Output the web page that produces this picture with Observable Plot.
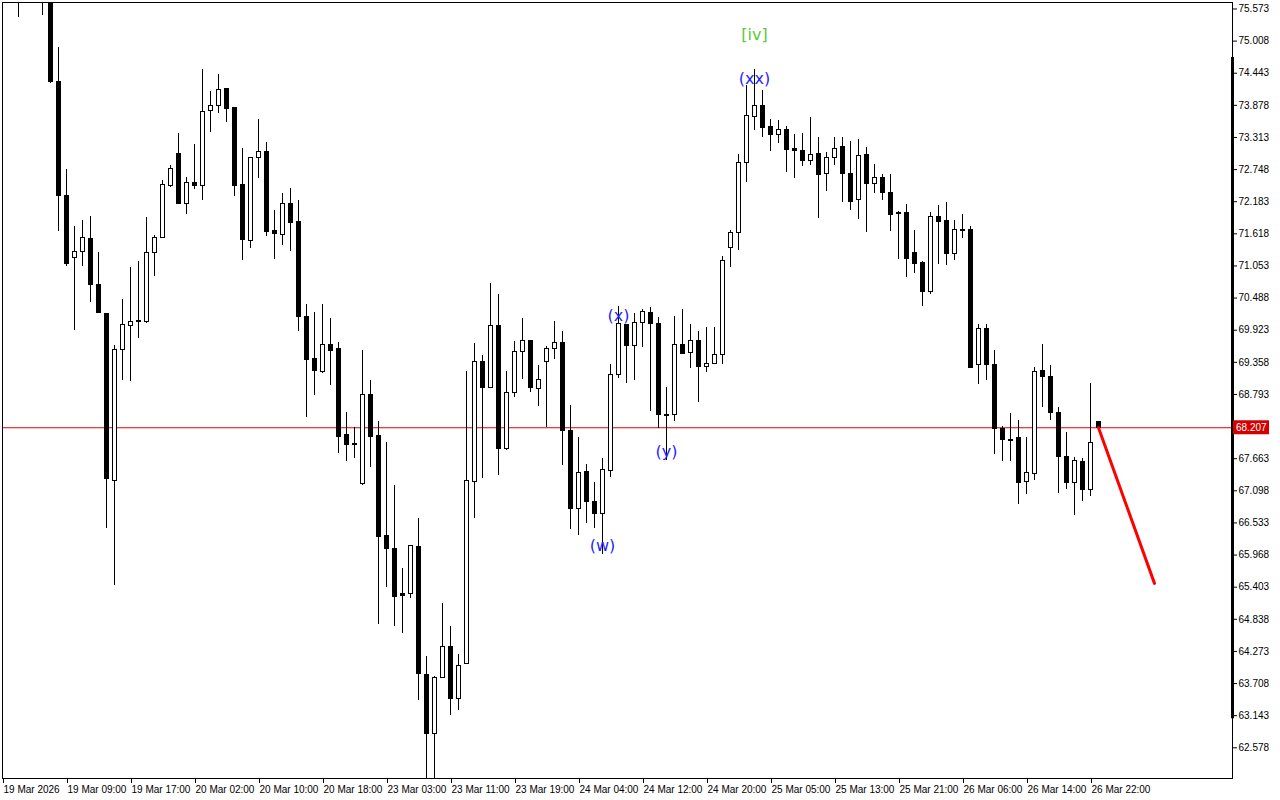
<!DOCTYPE html>
<html><head><meta charset="utf-8">
<script src="https://cdn.jsdelivr.net/npm/d3@7"></script>
<script src="https://cdn.jsdelivr.net/npm/@observablehq/plot@0.6"></script>
<style>html,body{margin:0;padding:0;background:#fff;} #chart svg{display:block;}</style>
</head><body><div id="chart"></div>
<script>
const opens = [76.45,76.20,76.40,75.80,76.30,76.10,75.80,74.284,72.283,71.196,71.301,71.529,70.722,70.213,67.266,69.582,70.003,70.073,70.073,71.283,71.547,72.459,73.020,72.143,72.512,72.459,73.775,73.862,74.161,73.827,72.476,71.494,72.950,73.055,71.669,71.599,72.143,71.827,70.161,69.424,69.196,69.669,69.599,68.073,67.915,67.213,68.775,68.055,66.301,66.073,65.283,65.283,66.108,63.862,62.827,63.810,64.354,63.441,64.055,67.248,69.371,68.915,70.003,67.827,68.827,69.546,69.740,68.897,69.371,69.599,69.704,68.143,66.775,67.424,66.897,66.687,67.441,69.143,70.020,69.652,70.055,70.231,70.038,68.424,68.424,69.669,69.529,69.740,69.283,69.336,69.494,71.371,71.634,72.862,73.669,73.862,73.494,73.354,73.441,73.108,73.073,72.897,73.020,72.669,72.950,73.143,72.669,72.213,73.003,72.494,72.599,72.336,71.985,71.985,71.283,71.108,70.599,71.915,71.845,71.266,71.687,71.687,69.318,69.950,69.318,68.178,67.985,68.020,67.248,67.389,69.213,69.108,68.459,67.687,67.231,67.599,67.108,68.301];
const highs = [76.70,76.55,76.60,76.50,76.70,76.40,76.00,74.898,72.757,71.740,71.845,71.915,71.283,70.213,69.652,70.459,71.020,71.126,71.897,71.582,72.564,72.827,73.389,72.617,73.196,74.512,74.126,74.424,74.178,73.827,73.126,72.968,73.634,73.231,72.020,72.336,72.424,72.196,70.371,70.231,70.371,70.126,69.704,68.476,68.213,69.564,69.038,68.318,67.950,67.196,65.740,66.143,66.617,64.178,63.830,65.108,64.704,64.213,69.196,69.687,69.476,70.740,70.547,69.196,69.722,70.126,69.750,69.301,69.634,70.073,69.898,68.599,68.038,67.564,67.248,67.669,69.318,70.336,70.030,70.213,70.283,70.318,70.143,68.915,70.161,70.283,70.020,69.898,69.968,69.968,71.213,71.669,73.020,74.231,74.512,74.143,73.634,73.617,73.511,73.371,73.389,73.669,73.319,73.055,73.319,73.319,73.248,73.283,73.143,72.845,72.669,72.669,72.003,72.126,71.669,71.126,71.985,72.108,72.178,71.845,71.950,71.740,70.020,70.020,69.564,68.231,68.459,68.336,68.038,69.266,69.669,69.301,68.564,68.126,67.687,67.669,68.985,68.310];
const lows = [76.10,75.90,75.42,75.75,75.90,75.46,74.266,71.652,71.038,69.915,71.038,70.406,70.213,66.441,65.441,69.038,69.020,69.775,70.038,70.862,71.547,72.441,72.130,71.950,72.406,72.196,73.406,73.740,73.582,72.283,71.143,71.354,72.599,71.564,71.161,71.406,71.301,69.898,68.389,68.775,69.161,68.950,67.757,67.617,67.669,67.200,67.511,64.739,65.406,64.704,64.581,65.196,63.406,61.915,62.003,63.792,63.143,63.231,64.040,66.617,67.318,68.900,67.371,67.810,68.740,69.055,68.827,68.582,68.213,69.406,67.546,66.424,66.319,66.529,66.441,65.985,67.336,69.073,68.985,69.038,69.617,68.494,68.196,67.634,68.318,69.500,69.248,68.652,69.178,69.330,69.318,71.020,71.319,72.529,73.441,73.319,73.073,73.213,72.704,72.599,72.810,72.827,71.880,72.371,72.827,72.178,72.020,71.862,71.634,72.336,72.213,71.652,71.161,70.845,70.915,70.336,70.547,71.073,71.055,71.143,71.529,69.260,68.968,69.038,67.739,67.617,67.617,66.862,67.038,67.284,68.564,68.336,67.055,67.126,66.669,66.915,67.003,68.150];
const closes = [76.20,76.40,75.80,76.30,76.10,75.80,74.292,72.283,71.090,71.301,71.547,70.722,70.231,67.301,69.582,70.020,70.073,70.080,71.283,71.547,72.476,72.757,72.143,72.512,72.459,73.757,73.862,74.143,73.810,72.459,71.512,72.950,73.055,71.652,71.617,72.143,71.810,70.161,69.406,69.213,69.669,69.564,68.038,67.897,67.910,68.775,68.038,66.283,66.073,65.231,65.248,66.126,63.880,62.827,63.810,64.354,63.441,64.020,67.266,69.371,68.915,70.003,67.827,68.827,69.546,69.740,68.915,69.055,69.599,69.704,68.143,66.775,67.406,66.897,66.687,67.459,69.143,70.038,69.652,70.055,70.248,70.038,68.424,68.420,69.669,69.511,69.740,69.283,69.336,69.494,71.143,71.634,72.862,73.687,73.862,73.476,73.354,73.441,73.090,73.073,72.897,73.003,72.652,72.950,73.108,72.669,72.178,72.985,72.494,72.599,72.336,71.950,71.968,71.178,71.090,70.599,71.915,71.827,71.266,71.687,71.669,69.266,69.950,69.318,68.178,67.985,67.980,67.231,67.406,69.196,69.108,68.459,67.687,67.231,67.617,67.108,67.932,68.207];

const xTickLabels = ["19 Mar 2026","19 Mar 09:00","19 Mar 17:00","20 Mar 02:00","20 Mar 10:00","20 Mar 18:00","23 Mar 03:00","23 Mar 11:00","23 Mar 19:00","24 Mar 04:00","24 Mar 12:00","24 Mar 20:00","25 Mar 05:00","25 Mar 13:00","25 Mar 21:00","26 Mar 06:00","26 Mar 14:00","26 Mar 22:00"];
const barsPerLabel = 8;
const yTicks = [62.578,63.143,63.708,64.273,64.838,65.403,65.968,66.533,67.098,67.663,68.793,69.358,69.923,70.488,71.053,71.618,72.183,72.748,73.313,73.878,74.443,75.008,75.573];
const currentPrice = 68.207;

const waveTexts = ["(w)","(x)","(y)","(xx)","[iv]"];
const waveBars = [75,77,83,94,94];
const wavePrices = [66.126,70.178,67.775,74.341,75.120];
const waveColors = ["#1f1fff","#1f1fff","#1f1fff","#1f1fff","#5cc83a"];

const trendBars = [137, 144];
const trendPrices = [68.207, 65.47];
const rangeBarPrices = [74.72, 63.09];

const yDomain = [62.038, 75.687];
const xDomain = [0, 153.75];

const candles = opens.map((o, i) => ({i, o, h: highs[i], l: lows[i], c: closes[i]}));
const waves = waveTexts.map((t, k) => ({t, i: waveBars[k], p: wavePrices[k], col: waveColors[k]}));
const trend = trendBars.map((b, k) => ({i: b, p: trendPrices[k]}));
const xTickBars = xTickLabels.map((_, k) => k * barsPerLabel);

const chart = Plot.plot({
  width: 1280, height: 800,
  marginLeft: 2, marginRight: 48, marginTop: 2, marginBottom: 22,
  style: {fontFamily: "Liberation Sans, Arial, sans-serif", fontSize: "10px", background: "white", color: "black"},
  x: {domain: xDomain, axis: null, label: null},
  y: {domain: yDomain, axis: null, label: null},
  marks: [
    Plot.ruleY([currentPrice], {stroke: "#e00000", strokeWidth: 1.2}),
    Plot.ruleX(candles, {x: "i", y1: "l", y2: "h", stroke: "black", strokeWidth: 1, clip: true, shapeRendering: "crispEdges"}),
    Plot.rect(candles, {x1: d => d.i - 0.25, x2: d => d.i + 0.25, y1: "o", y2: "c",
      fill: d => d.c > d.o ? "white" : "black", stroke: "black", strokeWidth: 1, clip: true, shapeRendering: "crispEdges"}),
    Plot.line(trend, {x: "i", y: "p", stroke: "#ff0000", strokeWidth: 3, clip: true}),
    Plot.text(waves, {x: "i", y: "p", text: "t", fill: "col", fontSize: 16, fontFamily: "DejaVu Sans"}),
    Plot.frame({stroke: "black", shapeRendering: "crispEdges"}),
    Plot.ruleX([xDomain[1]], {y1: rangeBarPrices[0], y2: rangeBarPrices[1], stroke: "black", strokeWidth: 3}),
    Plot.axisY(yTicks, {anchor: "right", label: null, tickSize: 4, tickPadding: 2, tickFormat: d => d.toFixed(3), fontSize: 10}),
    Plot.axisX(xTickBars, {anchor: "bottom", label: null, tickSize: 5, tickPadding: 2, tickFormat: d => xTickLabels[d / barsPerLabel], textAnchor: "start", dx: 1, fontSize: 10})
  ]
});

// current price tag on the price axis
const ys = chart.scale("y"), xs = chart.scale("x");
const py = ys.apply(currentPrice);
const px = xs.apply(xDomain[1]);
const svg = d3.select(chart);
const tag = svg.append("g");
tag.append("rect").attr("x", px + 1).attr("y", py - 7).attr("width", 36).attr("height", 14).attr("fill", "#d40000");
tag.append("text").attr("x", px + 4).attr("y", py).attr("dy", "0.35em")
  .style("fill", "#ffffff").attr("text-anchor", "start")
  .attr("font-family", "Liberation Sans, Arial, sans-serif").attr("font-size", 10).text(currentPrice.toFixed(3));

document.getElementById("chart").appendChild(chart);
</script>
</body></html>
